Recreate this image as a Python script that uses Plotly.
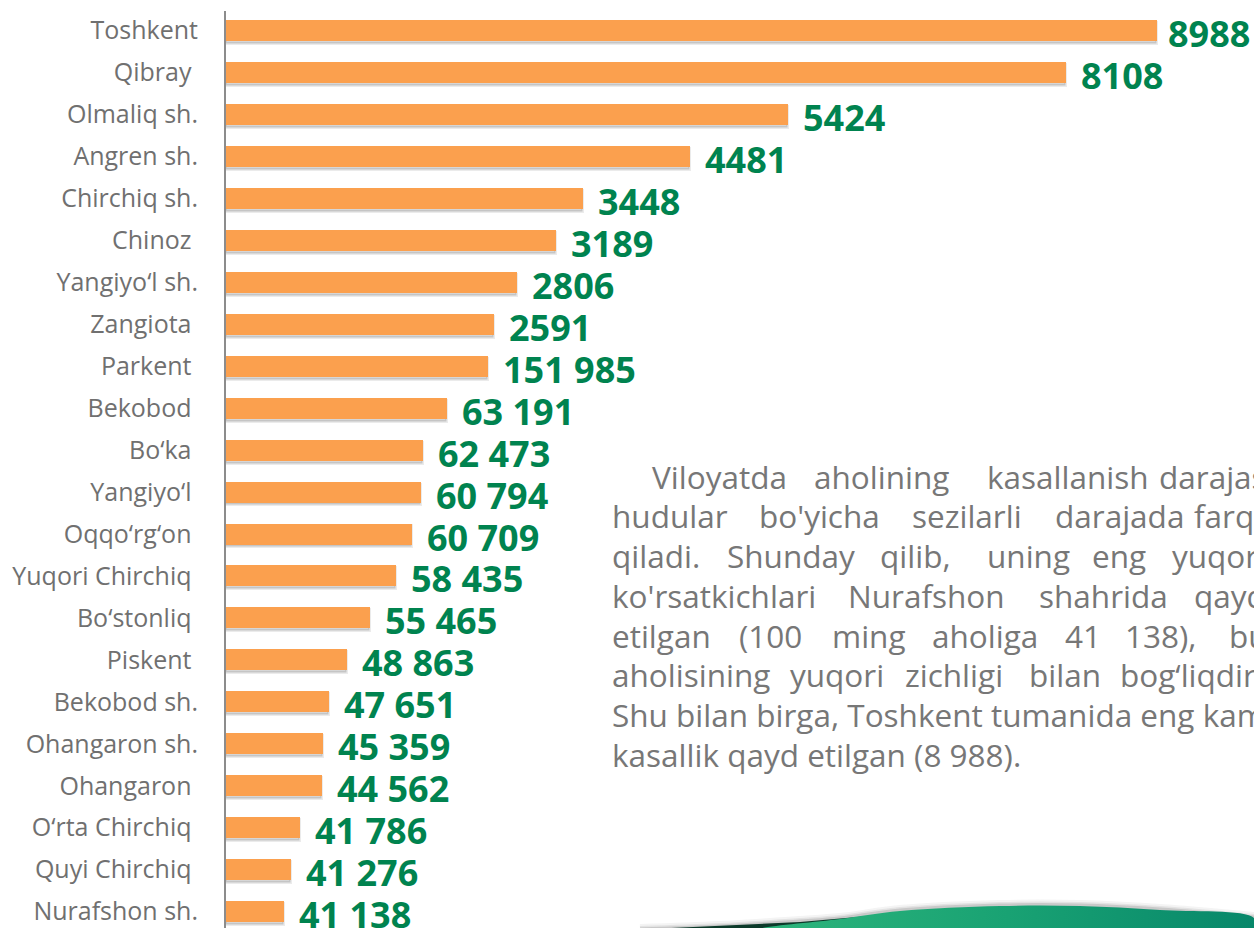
import plotly.graph_objects as go

# Regions, top to bottom
regions = [
    "Toshkent", "Qibray\u00a0", "Olmaliq sh.", "Angren sh.", "Chirchiq sh.", "Chinoz\u00a0",
    "Yangiyo\u2018l sh.", "Zangiota\u00a0", "Parkent\u00a0", "Bekobod\u00a0", "Bo\u2018ka\u00a0",
    "Yangiyo\u2018l\u00a0", "Oqqo\u2018rg\u2018on\u00a0", "Yuqori Chirchiq\u00a0", "Bo\u2018stonliq\u00a0",
    "Piskent\u00a0", "Bekobod sh.", "Ohangaron sh.", "Ohangaron\u00a0", "O\u2018rta Chirchiq\u00a0",
    "Quyi Chirchiq\u00a0", "Nurafshon sh.",
]
# bar lengths as drawn (same scale as the first labels)
bar_values = [8988, 8108, 5424, 4481, 3448, 3189, 2806, 2591, 2529, 2134, 1902,
              1883, 1796, 1641, 1390, 1168, 994, 936, 927, 714, 628, 560]
# labels printed next to the bars (as in the source)
bar_labels = ["8988", "8108", "5424", "4481", "3448", "3189", "2806", "2591",
              "151 985", "63 191", "62 473", "60 794", "60 709", "58 435", "55 465",
              "48 863", "47 651", "45 359", "44 562", "41 786", "41 276", "41 138"]

# justified paragraph: (word, left x in px) per line
paragraph = [
    [("Viloyatda", 650), ("aholining", 812), ("kasallanish", 985), ("darajasi", 1157)],
    [("hudular", 610), ("bo'yicha", 757), ("sezilarli", 910), ("darajada", 1053), ("farq", 1192)],
    [("qiladi.", 610), ("Shunday", 725), ("qilib,", 878), ("uning", 985), ("eng", 1090), ("yuqori", 1170)],
    [("ko'rsatkichlari", 610), ("Nurafshon", 846), ("shahrida", 1037), ("qayd", 1192)],
    [("etilgan", 610), ("(100", 737), ("ming", 830), ("aholiga", 930), ("41", 1063), ("138),", 1123), ("bu", 1227)],
    [("aholisining", 610), ("yuqori", 788), ("zichligi", 903), ("bilan", 1027), ("bog\u2018liqdir.", 1118)],
    [("Shu bilan birga, Toshkent tumanida eng kam", 610)],
    [("kasallik qayd etilgan (8 988).", 610)],
]

W, H = 1254, 928
L, T = 226, 11
ORANGE = "#FBA04E"
GREEN = "#00834F"
GREY = "#777777"
FONT = "Open Sans"

pos = list(range(len(regions)))

fig = go.Figure()

# drop shadow under the bars
fig.add_trace(go.Bar(
    x=bar_values, y=[p + 0.07 for p in pos], orientation="h", width=0.5,
    marker=dict(color="rgba(0,0,0,0.16)", line=dict(color="rgba(0,0,0,0.08)", width=3)),
    hoverinfo="skip", showlegend=False,
))
fig.add_trace(go.Bar(
    x=bar_values, y=pos, orientation="h", width=0.5,
    marker=dict(color=ORANGE, line=dict(width=0)),
    showlegend=False,
))

for i, (v, p, lab) in enumerate(zip(bar_values, pos, bar_labels)):
    fig.add_annotation(x=v, y=p, text=lab, showarrow=False, xanchor="left",
                       xshift=13 if i else 9, yshift=-3,
                       font=dict(family=FONT, size=36, color=GREEN, weight="bold"))

# pixel-space overlay axes for the text block and the decorative swoosh
px = dict(xref="x2", yref="y2")
base0, step = 487, 39.75
for i, line in enumerate(paragraph):
    for word, x in line:
        fig.add_annotation(x=x, y=base0 + i * step - 11, text=word, showarrow=False,
                           xanchor="left", yanchor="middle", **px,
                           font=dict(family=FONT, size=31.5, color=GREY))

# swoosh shadow, dark underlayer, green band
sx = [760, 840, 900, 1000, 1080, 1160, 1254]
sy = [929, 919, 911, 906, 906, 910, 918]
for w, a in [(10, 0.05), (6, 0.08), (3, 0.14)]:
    fig.add_trace(go.Scatter(x=[640, 720, 800] + sx[1:], y=[929, 926, 921] + [y - 1 for y in sy[1:]],
                             mode="lines", line=dict(color=f"rgba(40,40,40,{a})", width=w, shape="spline"),
                             xaxis="x2", yaxis="y2", hoverinfo="skip", showlegend=False))
fig.add_trace(go.Scatter(x=[650, 720, 800, 880, 880, 650], y=[929, 926, 922, 915, 929, 929],
                         mode="lines", fill="toself", fillcolor="#0C3A2A", line=dict(width=0),
                         xaxis="x2", yaxis="y2", hoverinfo="skip", showlegend=False))
fig.add_trace(go.Scatter(x=sx + [1254, 760], y=sy + [929, 929], mode="lines", fill="toself",
                         line=dict(width=0, shape="spline"),
                         fillgradient=dict(type="horizontal",
                                           colorscale=[[0, "#2DB57C"], [0.5, "#19A273"], [1, "#07876A"]]),
                         xaxis="x2", yaxis="y2", hoverinfo="skip", showlegend=False))

fig.update_layout(
    width=W, height=H, margin=dict(l=L, r=0, t=T, b=0),
    paper_bgcolor="white", plot_bgcolor="white",
    barmode="overlay", bargap=0, showlegend=False,
    xaxis=dict(range=[0, 8988 * (W - L) / 931], visible=False, fixedrange=True),
    yaxis=dict(range=[21.39, -0.465], tickvals=pos, ticktext=regions,
               showgrid=False, zeroline=False, showline=True, linecolor="#8C8C8C", linewidth=2,
               ticks="", ticklabelstandoff=21,
               tickfont=dict(family=FONT, size=25, color="#707070")),
    xaxis2=dict(range=[L, W], overlaying="x", visible=False, fixedrange=True),
    yaxis2=dict(range=[H, T], overlaying="y", visible=False, fixedrange=True),
)

fig.write_html("out.html", config={"displayModeBar": False},
               post_script="document.body.style.margin='0';")
